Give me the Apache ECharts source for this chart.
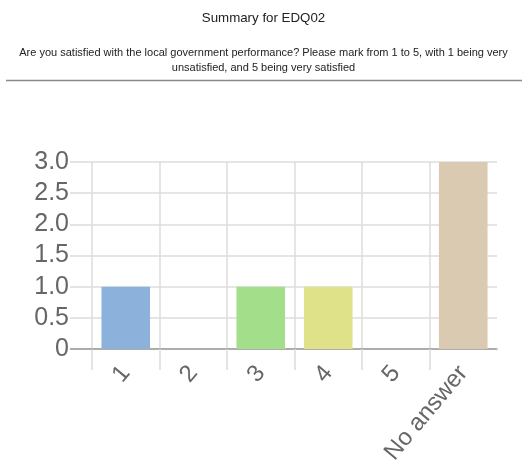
<!DOCTYPE html>
<html>
<head>
<meta charset="utf-8">
<script src="https://cdn.jsdelivr.net/npm/echarts@6/dist/echarts.min.js"></script>
<style>
  html, body { margin: 0; padding: 0; background: #fff; }
  #chart { width: 527px; height: 473px; }
</style>
</head>
<body>
<div id="chart"></div>
<script>
// Survey answers for question EDQ02
const categories = ['1', '2', '3', '4', '5', 'No answer'];
const counts = [1, 0, 1, 1, 0, 3];
const barColors = ['#8cb2dc', '#e89a8a', '#a3de8a', '#e0e28a', '#e8c08a', '#dacab2'];
const yTicks = [0, 0.5, 1, 1.5, 2, 2.5, 3];

const titleText = 'Summary for EDQ02';
const questionText = 'Are you satisfied with the local government performance? Please mark from 1 to 5, with 1 being very\nunsatisfied, and 5 being very satisfied';

const W = 527, H = 473;
const grid = { left: 92, right: 30, top: 162, bottom: 124 };
const tickLen = 21;
const yTickLen = 22;

const chart = echarts.init(document.getElementById('chart'), null, { renderer: 'canvas' });

const gridLight = '#dcdcdc';
const axisDark = '#9a9a9a';
const labelFont = 'Liberation Sans, Arial, Helvetica, sans-serif';

chart.setOption({
  animation: false,
  backgroundColor: '#fff',
  title: [
    {
      text: titleText,
      left: 'center',
      top: 7,
      textStyle: { fontFamily: labelFont, fontSize: 13.3, fontWeight: 'normal', color: '#222' }
    },
    {
      text: questionText,
      left: 'center',
      top: 40,
      textStyle: { fontFamily: labelFont, fontSize: 11, fontWeight: 'normal', color: '#222', lineHeight: 15, align: 'center' }
    }
  ],
  graphic: [
    // rule under the question text
    {
      type: 'line',
      shape: { x1: 6, y1: 80.5, x2: 522, y2: 80.5 },
      style: { stroke: '#8a8a8a', lineWidth: 1.5 }
    },
    // no tick after the last category
    {
      type: 'line',
      z: 100,
      shape: { x1: W - grid.right, y1: H - grid.bottom + 1.5, x2: W - grid.right, y2: H - grid.bottom + tickLen + 2 },
      style: { stroke: '#fff', lineWidth: 3 }
    },
    // zero tick drawn in the baseline colour
    {
      type: 'line',
      z: 100,
      shape: { x1: grid.left - yTickLen, y1: H - grid.bottom, x2: grid.left, y2: H - grid.bottom },
      style: { stroke: axisDark, lineWidth: 1.5 }
    }
  ],
  grid: Object.assign({ containLabel: false }, grid),
  xAxis: {
    type: 'category',
    data: categories,
    boundaryGap: true,
    axisLine: { show: true, lineStyle: { color: axisDark, width: 1.5 } },
    axisTick: { show: true, length: tickLen, lineStyle: { color: gridLight, width: 1.5 } },
    splitLine: { show: true, showMaxLine: false, lineStyle: { color: gridLight, width: 1.5 } },
    axisLabel: {
      rotate: 50,
      margin: 20,
      fontFamily: labelFont,
      fontSize: 24,
      color: '#666'
    }
  },
  yAxis: {
    type: 'value',
    min: yTicks[0],
    max: yTicks[yTicks.length - 1],
    interval: yTicks[1] - yTicks[0],
    axisLine: { show: false },
    axisTick: { show: true, length: yTickLen, lineStyle: { color: gridLight, width: 1.5 } },
    splitLine: { show: true, lineStyle: { color: gridLight, width: 1.5 } },
    axisLabel: {
      margin: 23,
      fontFamily: labelFont,
      fontSize: 25,
      color: '#666',
      formatter: v => (v === 0 ? '0' : v.toFixed(1))
    }
  },
  series: [
    {
      type: 'bar',
      barWidth: '72%',
      data: counts.map((v, i) => ({ value: v, itemStyle: { color: barColors[i] } }))
    }
  ]
});
</script>
</body>
</html>
